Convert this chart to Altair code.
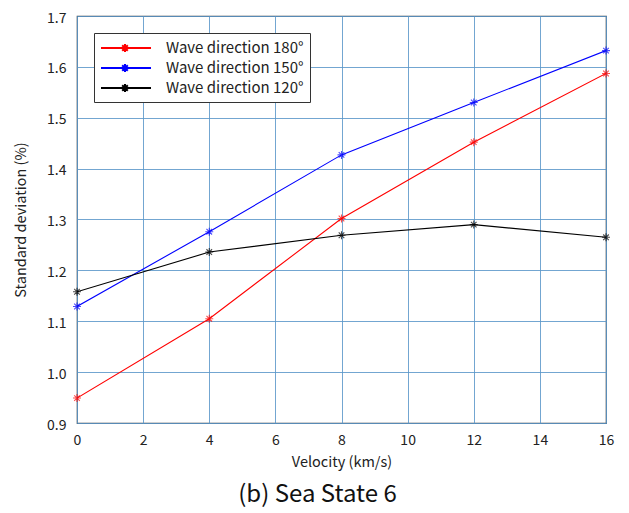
import altair as alt
import pandas as pd

velocity = [0, 4, 8, 12, 16]
series_names = ["Wave direction 180°", "Wave direction 150°", "Wave direction 120°"]
sd_180 = [0.949, 1.105, 1.302, 1.452, 1.587]
sd_150 = [1.129, 1.276, 1.427, 1.530, 1.632]
sd_120 = [1.158, 1.236, 1.269, 1.290, 1.265]
colors = ["#ff0000", "#0000ff", "#000000"]

rows = []
for name, vals in zip(series_names, [sd_180, sd_150, sd_120]):
    for v, s in zip(velocity, vals):
        rows.append({"Velocity": v, "SD": s, "Series": name})
df = pd.DataFrame(rows)

FONT = "Noto Sans CJK KR"
ASTERISK = "M-1,0H1M0,-1V1M-0.7,-0.7L0.7,0.7M-0.7,0.7L0.7,-0.7"
LEGEND_SYM = ("M-1,0H5.25"
              "M1.5,0H2.5M2,-0.5V0.5M1.65,-0.35L2.35,0.35M1.65,0.35L2.35,-0.35")

color_scale = alt.Scale(domain=series_names, range=colors)

x_enc = alt.X("Velocity:Q", scale=alt.Scale(domain=[0, 16], nice=False),
              axis=alt.Axis(values=list(range(0, 17, 2)), title="Velocity (km/s)",
                            format="d", labelPadding=10, titlePadding=8,
                            labelFlush=False))
y_enc = alt.Y("SD:Q", scale=alt.Scale(domain=[0.9, 1.7], nice=False, zero=False),
              axis=alt.Axis(values=[0.9, 1.0, 1.1, 1.2, 1.3, 1.4, 1.5, 1.6, 1.7],
                            format=".1f", title="Standard deviation (%)",
                            labelPadding=11, labelOffset=2, titlePadding=18,
                            labelFlush=False))

lines = alt.Chart(df).mark_line(strokeWidth=1.1, clip=True).encode(
    x=x_enc, y=y_enc,
    color=alt.Color("Series:N", scale=color_scale, sort=series_names,
                    legend=alt.Legend(
                        title=None, orient="none", legendX=17, legendY=17,
                        symbolType=LEGEND_SYM, symbolSize=256, symbolStrokeWidth=2,
                        symbolFillColor="transparent",
                        labelOffset=48, labelFontSize=15, labelFont=FONT,
                        labelColor="#222222", rowPadding=3,
                        padding=6, strokeColor="#333333", fillColor="white",
                        cornerRadius=0)),
    detail="Series:N",
)

points = alt.Chart(df).mark_point(shape=ASTERISK, size=64, filled=False,
                                  strokeWidth=1.1).encode(
    x="Velocity:Q", y="SD:Q",
    color=alt.Color("Series:N", scale=color_scale, legend=None),
)

chart = alt.layer(lines, points).properties(
    width=529, height=407,
    autosize=alt.AutoSizeParams(type="none"),
    padding={"left": 69, "top": 8, "right": 15, "bottom": 85},
    title=alt.TitleParams("(b) Sea State 6", orient="bottom", anchor="middle",
                          fontSize=24, font=FONT, fontWeight="normal",
                          color="#111111", dx=-24, offset=14),
).configure_view(
    stroke="#444444", strokeWidth=1.2
).configure_axis(
    grid=True, gridColor="#5a97c9", gridWidth=1, gridOpacity=0.85,
    domain=False, ticks=False,
    labelFont=FONT, labelFontSize=14, labelColor="#222222",
    titleFont=FONT, titleFontSize=14.5, titleFontWeight="normal", titleColor="#222222",
)

chart.save("out.html", embed_options={"renderer": "svg", "actions": False})
